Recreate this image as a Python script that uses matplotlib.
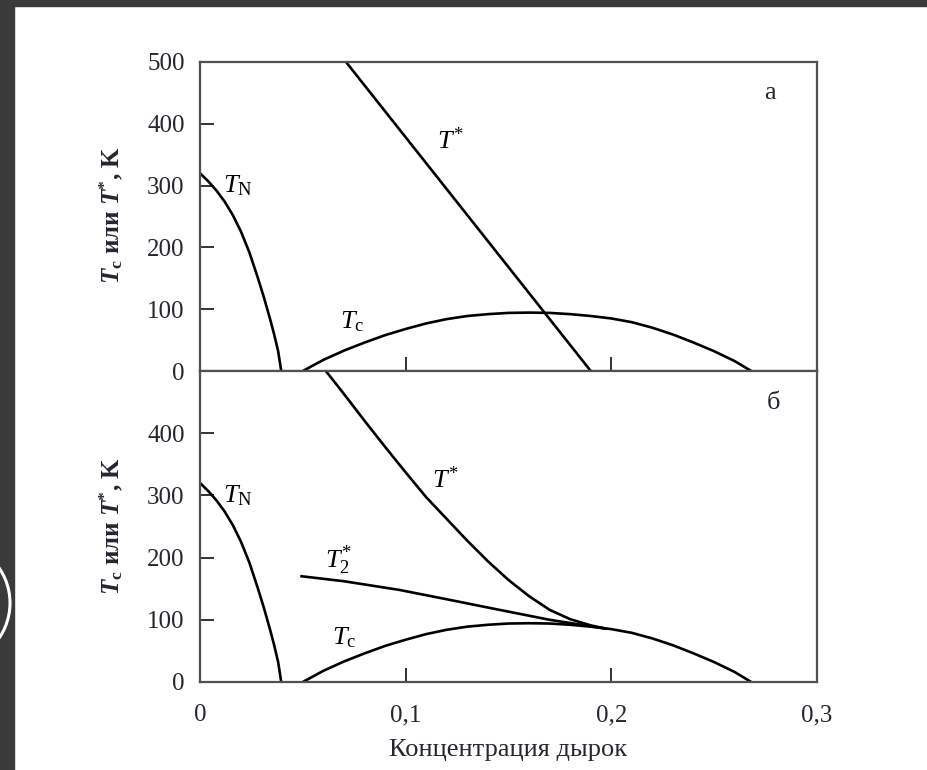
import numpy as np
import matplotlib
matplotlib.use("Agg")
import matplotlib.pyplot as plt
from matplotlib.patches import Rectangle, Circle

plt.rcParams['font.family'] = ['Liberation Serif', 'DejaVu Serif']
plt.rcParams['mathtext.fontset'] = 'custom'
plt.rcParams['mathtext.rm'] = 'Liberation Serif'
plt.rcParams['mathtext.it'] = 'Liberation Serif:italic'
plt.rcParams['mathtext.bf'] = 'Liberation Serif:bold'
plt.rcParams['mathtext.bfit'] = 'Liberation Serif:italic:bold'

# data
tn_x = [0, 0.004, 0.008, 0.012, 0.016, 0.02, 0.024, 0.028, 0.031, 0.034, 0.036,
        0.038, 0.0395]
tn_y = [320, 307, 292, 274, 252, 225, 192, 152, 120, 85, 60, 32, 0]

tc_x = [0.05, 0.06, 0.07, 0.08, 0.09, 0.10, 0.11, 0.12, 0.13, 0.14, 0.15, 0.16,
        0.17, 0.18, 0.19, 0.20, 0.21, 0.22, 0.23, 0.24, 0.25, 0.26, 0.268]
tc_y = [0, 18, 33, 46, 58, 68, 77, 84, 89, 92, 94, 94.5, 94, 92, 89, 85, 79, 70,
        59, 46, 32, 16, 0]

tstar_a_x = [0.071, 0.19]
tstar_a_y = [500, 0]

tstar_b_x = [0.0612, 0.07, 0.08, 0.09, 0.10, 0.11, 0.12, 0.13, 0.14, 0.15, 0.16,
             0.17, 0.18, 0.19, 0.197]
tstar_b_y = [500, 463, 420, 378, 337, 297, 262, 227, 194, 164, 138, 116, 101, 91, 86]

t2_x = [0.0494, 0.07, 0.097, 0.12, 0.1456, 0.17, 0.197]
t2_y = [170, 162, 148, 133, 116, 100, 86]

xticks = [0, 0.1, 0.2, 0.3]
xlabels = ['0', '0,1', '0,2', '0,3']
yticks = [0, 100, 200, 300, 400, 500]

W, H = 928, 770
fig = plt.figure(figsize=(W / 100, H / 100), dpi=100)
fig.patch.set_facecolor('white')

# dark frame of the slide
fig.patches.append(Rectangle((0, 0), 14 / W, 1, transform=fig.transFigure,
                             color='#3a3a3a', zorder=0))
fig.patches.append(Rectangle((0, 1 - 6 / H), 1, 6 / H, transform=fig.transFigure,
                             color='#3a3a3a', zorder=0))
ring = Circle((-52, H - 603), 62, transform=None, fill=False, ec='white', lw=2.2)
fig.patches.append(ring)

L = 200 / W
Wd = 617 / W
ax1 = fig.add_axes([L, (H - 371) / H, Wd, 309 / H])
ax2 = fig.add_axes([L, (H - 682) / H, Wd, 311 / H])

spine_c = '#505050'
txt_c = '#262630'
lw = 1.9

for ax in (ax1, ax2):
    ax.set_xlim(0, 0.3)
    ax.set_ylim(0, 500)
    ax.set_xticks(xticks)
    ax.set_yticks(yticks)
    ax.tick_params(direction='in', length=10, width=1.3, color='#222222',
                   labelsize=18, labelcolor=txt_c)
    ax.tick_params(axis='y', pad=11)
    ax.tick_params(axis='x', pad=16)
    for s in ax.spines.values():
        s.set_color(spine_c)
        s.set_linewidth(1.6)
    ax.plot(tn_x, tn_y, color='black', lw=lw)
    ax.plot(tc_x, tc_y, color='black', lw=lw)
    ax.text(0.011, 300, r'$T_\mathrm{N}$', fontsize=19, va='center', ha='left')

ax1.set_xticklabels([])
ax1.set_yticklabels(['0', '100', '200', '300', '400', '500'])
ax2.set_xticklabels(xlabels)
ax2.set_yticklabels(['0', '100', '200', '300', '400', ''])

ax1.plot(tstar_a_x, tstar_a_y, color='black', lw=lw)
ax2.plot(tstar_b_x, tstar_b_y, color='black', lw=lw)
ax2.plot(t2_x, t2_y, color='black', lw=lw)

ax1.text(0.115, 372, r'$T^{*}$', fontsize=19, va='center', ha='left')
ax1.text(0.068, 80, r'$T_\mathrm{c}$', fontsize=19, va='center', ha='left')
ax1.text(0.277, 450, 'а', fontsize=19, va='center', ha='center', color=txt_c)

ax2.text(0.113, 326, r'$T^{*}$', fontsize=19, va='center', ha='left')
ax2.text(0.061, 196, r'$T_2^{*}$', fontsize=19, va='center', ha='left')
ax2.text(0.064, 71, r'$T_\mathrm{c}$', fontsize=19, va='center', ha='left')
ax2.text(0.279, 449, 'б', fontsize=19, va='center', ha='center', color=txt_c)

ylab = r'$\mathbfit{T}_\mathbf{c}$ или $\mathbfit{T}^{\mathbf{*}}$, K'
fig.text(111 / W, 1 - 215 / H, ylab, rotation=90, fontsize=18, fontweight='bold',
         ha='center', va='center', color=txt_c)
fig.text(111 / W, 1 - 526 / H, ylab, rotation=90, fontsize=18, fontweight='bold',
         ha='center', va='center', color=txt_c)
fig.text(508 / W, 1 - 750 / H, 'Концентрация дырок', fontsize=19,
         ha='center', va='center', color=txt_c)

fig.savefig('out.png', dpi=100, facecolor=fig.get_facecolor())
